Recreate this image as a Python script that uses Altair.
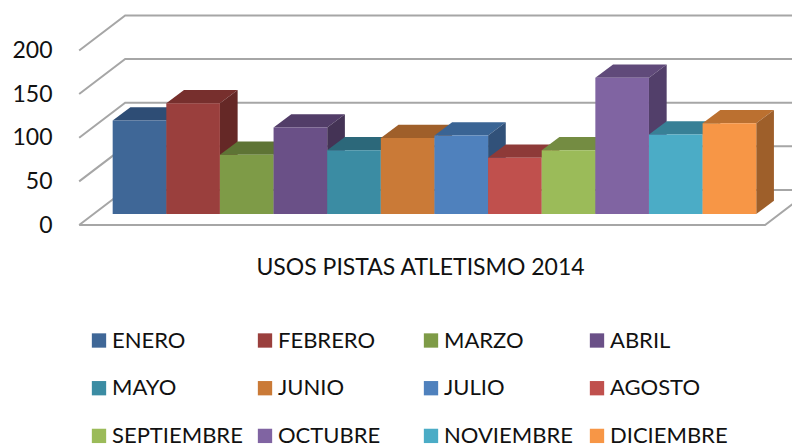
import altair as alt
import pandas as pd

months = ["ENERO", "FEBRERO", "MARZO", "ABRIL", "MAYO", "JUNIO", "JULIO", "AGOSTO",
          "SEPTIEMBRE", "OCTUBRE", "NOVIEMBRE", "DICIEMBRE"]
values = [107, 127, 68, 99, 73, 87, 90, 64.5, 73, 156, 91, 104]
front = ["#3F6797", "#9A3F3D", "#7E9B47", "#6A5087", "#3B8CA3", "#CA7A37",
         "#4F81BD", "#C0504D", "#9BBB59", "#8064A2", "#4BACC6", "#F79646"]
top = ["#2E4D75", "#772F2D", "#5E7435", "#523D68", "#2C687A", "#9F5F2A",
       "#3A6494", "#8E3A38", "#748C42", "#604A7A", "#388096", "#BB7030"]
side = ["#2B476B", "#652826", "#4F622D", "#443355", "#255868", "#824D22",
        "#315179", "#773130", "#617538", "#523F6A", "#2F6B7E", "#9E5F2A"]
ticks = [0, 50, 100, 150, 200]
title_text = "USOS PISTAS ATLETISMO 2014"

FONT = "Lato"
X_DOMAIN = [-0.945, 12.667]
Y_DOMAIN = [-255.4, 248.6]
BASE = 12.6       # bars' floor height above the front floor edge
BAR_DX, BAR_DY = 0.33, 15.2
WALL_DX, WALL_DY = 0.858, 40.1
X_LEFT = -0.625   # front-left floor corner
X_RIGHT = 12.165  # front-right floor corner

# gridlines
grid_rows = []
for t in ticks:
    k = f"g{t}"
    grid_rows += [
        {"k": k, "o": 0, "x": X_LEFT, "y": t},
        {"k": k, "o": 1, "x": X_LEFT + WALL_DX, "y": t + WALL_DY},
        {"k": k, "o": 2, "x": X_DOMAIN[1], "y": t + WALL_DY},
    ]
grid_rows += [
    {"k": "floor", "o": 0, "x": X_LEFT, "y": 0},
    {"k": "floor", "o": 1, "x": X_RIGHT, "y": 0},
    {"k": "floor", "o": 2, "x": X_RIGHT + WALL_DX, "y": WALL_DY},
]
grid = pd.DataFrame(grid_rows)

# faces
face_rows, front_rows = [], []
for i, (m, v) in enumerate(zip(months, values)):
    h = v + BASE
    front_rows.append({"month": m, "x": i, "x2": i + 1, "y": BASE, "y2": h})
    face_rows += [
        {"k": f"t{i}", "c": top[i], "x": i, "lo": h, "hi": h},
        {"k": f"t{i}", "c": top[i], "x": i + BAR_DX, "lo": h, "hi": h + BAR_DY},
        {"k": f"t{i}", "c": top[i], "x": i + 1, "lo": h, "hi": h + BAR_DY},
        {"k": f"t{i}", "c": top[i], "x": i + 1 + BAR_DX, "lo": h + BAR_DY, "hi": h + BAR_DY},
        {"k": f"s{i}", "c": side[i], "x": i + 1, "lo": BASE, "hi": h},
        {"k": f"s{i}", "c": side[i], "x": i + 1 + BAR_DX, "lo": BASE + BAR_DY, "hi": h + BAR_DY},
    ]
faces = pd.DataFrame(face_rows)
fronts = pd.DataFrame(front_rows)

x_scale = alt.Scale(domain=X_DOMAIN, nice=False, zero=False)
y_scale = alt.Scale(domain=Y_DOMAIN, nice=False, zero=False)

x_axis = alt.Axis(
    title=title_text, domain=False, ticks=False, labels=False, grid=False,
    titleFont=FONT, titleFontSize=23, titleFontWeight="normal", titleColor="#111111",
    titleX=358, titleY=-181, titleAlign="center", titleBaseline="middle", titleAnchor="start",
)
y_axis = alt.Axis(
    title=None, values=ticks, domain=False, ticks=False, grid=False,
    labelFont=FONT, labelFontSize=23, labelColor="#111111", labelPadding=10,
    labelBaseline="middle",
)

grid_layer = alt.Chart(grid).mark_line(color="#A6A6A6", strokeWidth=2, clip=True).encode(
    x=alt.X("x:Q", scale=x_scale, axis=x_axis),
    y=alt.Y("y:Q", scale=y_scale, axis=y_axis),
    detail="k:N",
    order="o:Q",
)

face_layer = alt.Chart(faces).mark_area(orient="vertical", clip=True).encode(
    x=alt.X("x:Q", scale=x_scale),
    y=alt.Y("hi:Q", scale=y_scale, stack=None),
    y2="lo:Q",
    detail="k:N",
    fill=alt.Fill("c:N", scale=None),
)

front_layer = alt.Chart(fronts).mark_rect(clip=True).encode(
    x=alt.X("x:Q", scale=x_scale),
    x2="x2:Q",
    y=alt.Y("y:Q", scale=y_scale),
    y2="y2:Q",
    color=alt.Color(
        "month:N",
        sort=months,
        scale=alt.Scale(domain=months, range=front),
        legend=alt.Legend(
            title=None, orient="none", legendX=26, legendY=321.5, columns=4, gridAlign="all",
            direction="horizontal",
            symbolType="square", symbolSize=205, symbolStrokeWidth=0,
            labelFont=FONT, labelFontSize=22, labelColor="#111111", labelOffset=2,
            columnPadding=11, rowPadding=25.7, labelLimit=200,
        ),
    ),
)

chart = alt.layer(grid_layer, face_layer, front_layer).properties(
    width=730, height=440,
    padding={"left": 54, "top": 0, "right": 0, "bottom": 0},
    autosize=alt.AutoSizeParams(type="none"),
    background="white",
).configure_view(stroke=None)

chart.save("out.html", embed_options={"renderer": "svg", "actions": False})
